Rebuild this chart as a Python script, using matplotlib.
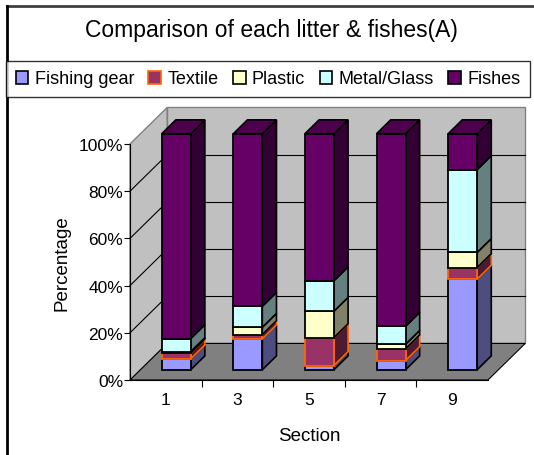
import numpy as np
import matplotlib.pyplot as plt
from matplotlib.patches import Polygon, Patch
from matplotlib.lines import Line2D

plt.rcParams['font.family'] = ['Liberation Sans', 'DejaVu Sans']

# percentage of each category per section
sections = ['1', '3', '5', '7', '9']
fishing_gear = [4.6, 13.1, 1.8, 3.9, 38.4]
textile = [2.6, 1.8, 11.8, 5.0, 4.9]
plastic = [0.5, 3.1, 11.2, 1.9, 6.4]
metal_glass = [5.5, 8.9, 12.9, 7.6, 35.1]
fishes = [86.8, 73.1, 62.3, 81.6, 15.2]

names = ['Fishing gear', 'Textile', 'Plastic', 'Metal/Glass', 'Fishes']
series = [fishing_gear, textile, plastic, metal_glass, fishes]
front_col = ['#9999FF', '#993366', '#FFFFCC', '#CCFFFF', '#660066']
side_col = ['#4D4D80', '#4D1A33', '#80806B', '#668080', '#330033']
edge_col = ['black', '#FF6600', 'black', 'black', 'black']
top_col = '#4D004D'

W, H = 534, 456
fig = plt.figure(figsize=(W / 100, H / 100), dpi=100)
ax = fig.add_axes([130 / W, (H - 381) / H, 358 / W, 236 / H])
ax.set_xlim(0, 5)
ax.set_ylim(0, 100)
ax.patch.set_visible(False)

# 3d depth in data units
dx, dy = 0.52, 15.5
d0, d1 = 0.28, 0.66
bw = 0.405
n = len(sections)

# walls and floor
ax.add_patch(Polygon([(0, 0), (dx, dy), (dx, 100 + dy), (0, 100)], closed=True,
                     fc='#C0C0C0', ec='#808080', lw=1, clip_on=False, zorder=0))
ax.add_patch(Polygon([(dx, dy), (n + dx, dy), (n + dx, 100 + dy), (dx, 100 + dy)],
                     closed=True, fc='#C0C0C0', ec='#808080', lw=1, clip_on=False, zorder=0))
ax.add_patch(Polygon([(0, 0), (n, 0), (n + dx, dy), (dx, dy)], closed=True,
                     fc='#808080', ec='black', lw=0.8, clip_on=False, zorder=0.5))
for v in [20, 40, 60, 80]:
    ax.plot([0, dx], [v, v + dy], color='black', lw=0.8, clip_on=False, zorder=1)
    ax.plot([dx, n + dx], [v + dy, v + dy], color='black', lw=0.8, clip_on=False, zorder=1)

# stacked 3d bars
for i in range(n):
    x0 = i + 0.5 - bw / 2 + d0 * dx
    y_off = d0 * dy
    sx = (d1 - d0) * dx
    sy = (d1 - d0) * dy
    base = 0
    for k, s in enumerate(series):
        h = s[i]
        b = base + y_off
        ax.add_patch(Polygon([(x0 + bw, b), (x0 + bw + sx, b + sy),
                              (x0 + bw + sx, b + h + sy), (x0 + bw, b + h)], closed=True,
                             fc=side_col[k], ec=edge_col[k], lw=1.2, clip_on=False, zorder=3 + k * 0.1))
        ax.add_patch(Polygon([(x0, b), (x0 + bw, b), (x0 + bw, b + h), (x0, b + h)], closed=True,
                             fc=front_col[k], ec=edge_col[k], lw=1.3, clip_on=False, zorder=3 + k * 0.1 + 0.05))
        base += h
    top = base + y_off
    ax.add_patch(Polygon([(x0, top), (x0 + sx, top + sy), (x0 + bw + sx, top + sy), (x0 + bw, top)],
                         closed=True, fc=top_col, ec='black', lw=1.2, clip_on=False, zorder=4))

# axes
for sp in ['top', 'right']:
    ax.spines[sp].set_visible(False)
ax.spines['left'].set_zorder(5)
ax.spines['bottom'].set_zorder(5)
ax.set_yticks([0, 20, 40, 60, 80, 100])
ax.set_yticklabels(['0%', '20%', '40%', '60%', '80%', '100%'], fontsize=12.5)
ax.tick_params(axis='y', length=4, pad=1)
ax.set_xticks([1, 2, 3, 4])
ax.set_xticklabels([])
ax.set_xticks(np.arange(n) + 0.5, minor=True)
ax.set_xticklabels(sections, minor=True, fontsize=12.5)
ax.tick_params(axis='x', which='major', length=5, direction='out')
ax.tick_params(axis='x', which='minor', length=0, pad=9)
ax.set_xlabel('Section', fontsize=13.5, labelpad=14)
ax.set_ylabel('Percentage', fontsize=13.5, labelpad=6)

fig.text(271 / W, 1 - 31 / H, 'Comparison of each litter & fishes(A)', ha='center', va='center',
         fontsize=16.5)

handles = [Patch(fc=front_col[k], ec=edge_col[k] if k == 1 else 'black', lw=1.2) for k in range(5)]
leg = fig.legend(handles, names, loc='center', bbox_to_anchor=(268 / W, 1 - 80 / H), ncol=5,
                 fontsize=13, frameon=True, fancybox=False, edgecolor='black', handlelength=0.7,
                 handleheight=0.7, handletextpad=0.35, columnspacing=0.8, borderpad=0.55,
                 borderaxespad=0)
leg.get_frame().set_linewidth(1)

# outer frame
fig.add_artist(Line2D([7 / W, 1], [1 - 7 / H, 1 - 7 / H], color='#404040', lw=2))
fig.add_artist(Line2D([7 / W, 7 / W], [0, 1 - 7 / H], color='black', lw=2))

fig.savefig('out.png', dpi=100)
